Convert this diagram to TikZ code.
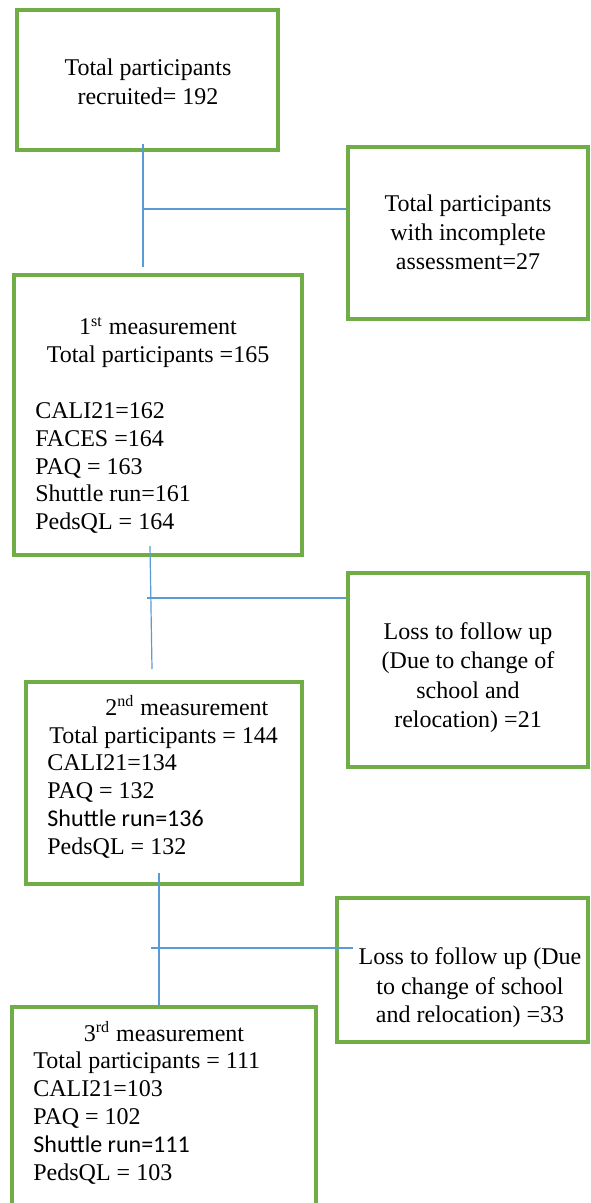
\documentclass[tikz,border=0pt]{standalone}
\usepackage{fontspec}
\setmainfont{Liberation Serif}
\newfontfamily\calibrifont{Carlito}
\usetikzlibrary{fit}
\definecolor{boxgreen}{HTML}{70AD47}
\definecolor{linkblue}{HTML}{5B9BD5}
\begin{document}
\begin{tikzpicture}[x=0.5pt,y=-0.5pt,
  gbox/.style={draw=boxgreen, line width=1.6pt, inner sep=0pt},
  link/.style={draw=linkblue, line width=0.6pt},
  txt/.style={anchor=base, inner sep=0pt, font=\fontsize{12}{14}\selectfont},
  ltxt/.style={txt, anchor=base west}]
\useasboundingbox (0,0) rectangle (590,1203);
\clip (0,0) rectangle (590,1203);
\fill[white] (0,0) rectangle (590,1203);

% boxes
\node[gbox, fit={(17,10) (278,150)}] (b1) {};
\node[gbox, fit={(348,147) (588,319)}] (b2) {};
\node[gbox, fit={(14,275) (302,555)}] (b3) {};
\node[gbox, fit={(348,573) (588,767)}] (b5) {};
\node[gbox, fit={(26,682) (302,884)}] (b4) {};
\node[gbox, fit={(337,898) (588,1042)}] (b6) {};
\node[gbox, fit={(12,1007) (316,1225)}] (b7) {};

% box 1
\node[txt] (t1a) at (148,76) {Total participants};
\node[txt] (t1b) at (148,105) {recruited= 192};

% box 2
\node[txt] (t2a) at (468,212) {Total participants};
\node[txt] (t2b) at (468,241) {with incomplete};
\node[txt] (t2c) at (468,270) {assessment=27};

% box 3
\node[txt] (t3a) at (158,335) {1\textsuperscript{st} measurement};
\node[txt] (t3b) at (158,363) {Total participants =165};
\node[ltxt] (t3c) at (35,418) {CALI21=162};
\node[ltxt] (t3d) at (35,446) {FACES =164};
\node[ltxt] (t3e) at (35,474) {PAQ = 163};
\node[ltxt] (t3f) at (35,501) {Shuttle run=161};
\node[ltxt] (t3g) at (35,529) {PedsQL = 164};

% box 5
\node[txt] (t5a) at (468,639) {Loss to follow up};
\node[txt] (t5b) at (468,668) {(Due to change of};
\node[txt] (t5c) at (468,698) {school and};
\node[txt] (t5d) at (468,727) {relocation) =21};

% box 4
\node[ltxt] (t4a) at (105,715) {2\textsuperscript{nd} measurement};
\node[ltxt] (t4b) at (49,743) {Total participants = 144};
\node[ltxt] (t4c) at (47,770) {CALI21=134};
\node[ltxt] (t4d) at (47,798) {PAQ = 132};
\node[ltxt] (t4e) at (47,826) {\calibrifont Shuttle run=136};
\node[ltxt] (t4f) at (47,854) {PedsQL = 132};

% box 6
\node[txt] (t6a) at (470,964) {Loss to follow up (Due};
\node[txt] (t6b) at (470,994) {to change of school};
\node[txt] (t6c) at (470,1022) {and relocation) =33};

% box 7
\node[txt] (t7a) at (164,1041) {3\textsuperscript{rd} measurement};
\node[ltxt] (t7b) at (33,1068) {Total participants = 111};
\node[ltxt] (t7c) at (33,1096) {CALI21=103};
\node[ltxt] (t7d) at (33,1124) {PAQ = 102};
\node[ltxt] (t7e) at (33,1152) {\calibrifont Shuttle run=111};
\node[ltxt] (t7f) at (33,1180) {PedsQL = 103};

% connector coordinates
\coordinate (v1top) at (143,144);
\coordinate (v1bot) at (143,267);
\coordinate (j1) at (143,209);
\coordinate (v2top) at (150,546);
\coordinate (v2bot) at (152,669);
\coordinate (j2) at (147,598);
\coordinate (v3top) at (159,873);
\coordinate (v3bot) at (159,1006);
\coordinate (j3) at (151,948);
\coordinate (e3) at (353,948);

% connectors
\draw[link] (v1top) -- (v1bot);
\draw[link] (j1) -- (j1 -| b2.west);
\draw[link] (v2top) -- (v2bot);
\draw[link] (j2) -- (j2 -| b5.west);
\draw[link] (v3top) -- (v3bot);
\draw[link] (j3) -- (e3);
\end{tikzpicture}
\end{document}
